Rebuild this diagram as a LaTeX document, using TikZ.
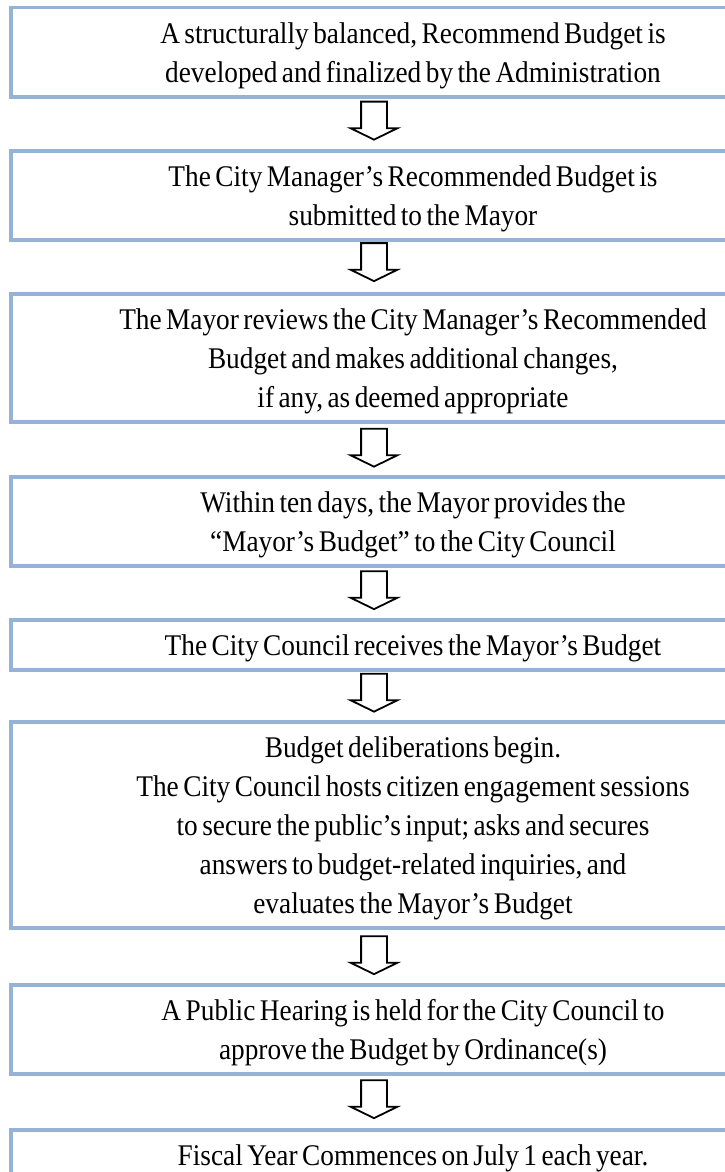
\documentclass[tikz,border=0pt]{standalone}
\usepackage{fontspec}
\setmainfont[FakeStretch=0.91]{Liberation Serif}
\usepackage{tikz}
\usetikzlibrary{shapes.arrows}
\definecolor{boxblue}{RGB}{149,179,215}

\begin{document}
\begin{tikzpicture}[x=1pt,y=-1pt,
  stepbox/.style={draw=boxblue,line width=3.5pt,anchor=north,
    minimum width=804pt,text width=804pt,align=center,inner sep=0pt,
    text height=36pt,font=\fontsize{30}{39}\selectfont,
    execute at begin node={\spaceskip 4.5pt\relax}},
  downarrow/.style={draw=black,line width=1.8pt,single arrow,
    shape border rotate=270,single arrow head extend=10.5pt,
    single arrow tip angle=128,inner sep=12pt,minimum height=38pt}]
\useasboundingbox (0,0) rectangle (725,1172);
\clip (0,0) rectangle (725,1172);
\node[stepbox,text depth=53pt] (b1) at (413,6) {A structurally balanced, Recommend Budget is\\developed and finalized by the Administration};
\node[stepbox,text depth=53pt] (b2) at (413,149) {The City Manager’s Recommended Budget is\\submitted to the Mayor};
\node[stepbox,text depth=92pt] (b3) at (413,292) {The Mayor reviews the City Manager’s Recommended\\Budget and makes additional changes,\\if any, as deemed appropriate};
\node[stepbox,text depth=53pt] (b4) at (413,475) {Within ten days, the Mayor provides the\\“Mayor’s Budget” to the City Council};
\node[stepbox,text depth=14pt] (b5) at (413,618) {The City Council receives the Mayor’s Budget};
\node[stepbox,text depth=170pt] (b6) at (413,720) {Budget deliberations begin.\\The City Council hosts citizen engagement sessions\\to secure the public’s input; asks and secures\\answers to budget-related inquiries, and\\evaluates the Mayor’s Budget};
\node[stepbox,text depth=53pt] (b7) at (413,983) {A Public Hearing is held for the City Council to\\approve the Budget by Ordinance(s)};
\node[stepbox,text depth=14pt] (b8) at (413,1128) {Fiscal Year Commences on July 1 each year.};
% arrows between the steps
\node[downarrow] (a1) at (374,117.5) {};
\node[downarrow] (a2) at (374,259) {};
\node[downarrow] (a3) at (374,444.5) {};
\node[downarrow] (a4) at (374,587) {};
\node[downarrow] (a5) at (374,689.5) {};
\node[downarrow] (a6) at (374,952) {};
\node[downarrow] (a7) at (374,1096) {};
\end{tikzpicture}
\end{document}
